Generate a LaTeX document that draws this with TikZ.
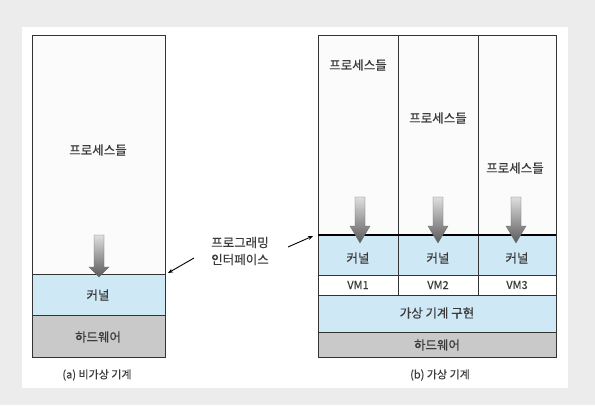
\documentclass[tikz,border=0pt]{standalone}
\usepackage{fontspec}
\setmainfont[FakeBold=0.4]{Noto Sans CJK KR}
\usetikzlibrary{arrows.meta}
\definecolor{bgc}{HTML}{ECECEC}
\definecolor{procfill}{HTML}{FBFBFB}
\definecolor{kblue}{HTML}{CFE8F6}
\definecolor{hwgray}{HTML}{C9C9C9}
\definecolor{ln}{HTML}{333333}
\definecolor{txt}{HTML}{3A3A3A}
\newcommand\sysarrow[4]{%
  \shade[top color=gray!25, bottom color=black!65, draw=gray!80!black, line width=0.3pt]
    (#1-5,#2) -- (#1+5,#2) -- (#1+5,#3) -- (#1+10,#3) -- (#1,#4) -- (#1-10,#3) -- (#1-5,#3) -- cycle;}
\begin{document}
\begin{tikzpicture}[x=1pt,y=-1pt,
  every node/.style={text=txt, inner sep=0pt},
  lbl/.style={font=\fontsize{12.5}{14}\selectfont},
  small/.style={font=\fontsize{11}{13}\selectfont},
  box/.style={draw=ln, line width=0.8pt},
  callout/.style={-{Stealth[length=5pt,width=4pt]}, line width=0.9pt, black}]
\useasboundingbox (0,0) rectangle (595,405);
\fill[bgc] (0,0) rectangle (595,405);
\fill[white] (22,27) rectangle (568,388);
% ---- (a) non-virtual machine
\fill[procfill] (32,35) rectangle (165,274);
\fill[kblue] (32,274) rectangle (165,315);
\fill[hwgray] (32,315) rectangle (165,357);
\draw[box] (32,35) rectangle (165,357);
\draw[box] (32,274) -- (165,274);
\draw[box] (32,315) -- (165,315);
\sysarrow{99}{235}{267}{277}
\node[lbl] (pa) at (98,150) {프로세스들};
\node[lbl] (ka) at (98,295) {커널};
\node[lbl] (ha) at (98,337) {하드웨어};
\node[small] (capa) at (97,375) {(a) 비가상 기계};
% ---- (b) virtual machine
\fill[procfill] (318,35) rectangle (556,235);
\fill[kblue] (318,235) rectangle (556,275);
\fill[white] (318,275) rectangle (556,295);
\fill[kblue] (318,295) rectangle (556,332);
\fill[hwgray] (318,332) rectangle (556,357);
\draw[box] (318,35) rectangle (556,357);
\draw[box] (398,35) -- (398,295);
\draw[box] (478,35) -- (478,295);
\draw[box] (318,275) -- (556,275);
\draw[box] (318,295) -- (556,295);
\draw[box] (318,332) -- (556,332);
\draw[line width=2.6pt, black] (318,235) -- (556,235);
\sysarrow{360}{197}{226}{243}
\sysarrow{438}{197}{226}{243}
\sysarrow{516}{197}{226}{243}
\node[lbl] (p1) at (358,65) {프로세스들};
\node[lbl] (p2) at (438,118) {프로세스들};
\node[lbl] (p3) at (515,168) {프로세스들};
\node[lbl] (k1) at (358,258) {커널};
\node[lbl] (k2) at (438,258) {커널};
\node[lbl] (k3) at (517,258) {커널};
\node[small] (v1) at (358,285) {VM1};
\node[small] (v2) at (438,285) {VM2};
\node[small] (v3) at (517,285) {VM3};
\node[lbl] (vmi) at (437,313) {가상 기계 구현};
\node[lbl] (hb) at (437,345) {하드웨어};
\node[small] (capb) at (440,375) {(b) 가상 기계};
% ---- programming interface callout
\node[lbl, align=center, font=\fontsize{12.5}{17}\selectfont] (iface) at (240,251) {프로그래밍\\인터페이스};
\coordinate (aS) at (194,258);
\coordinate (aE) at (168,273);
\coordinate (bS) at (288,247);
\coordinate (bE) at (313,236);
\draw[callout] (aS) -- (aE);
\draw[callout] (bS) -- (bE);
\end{tikzpicture}
\end{document}
